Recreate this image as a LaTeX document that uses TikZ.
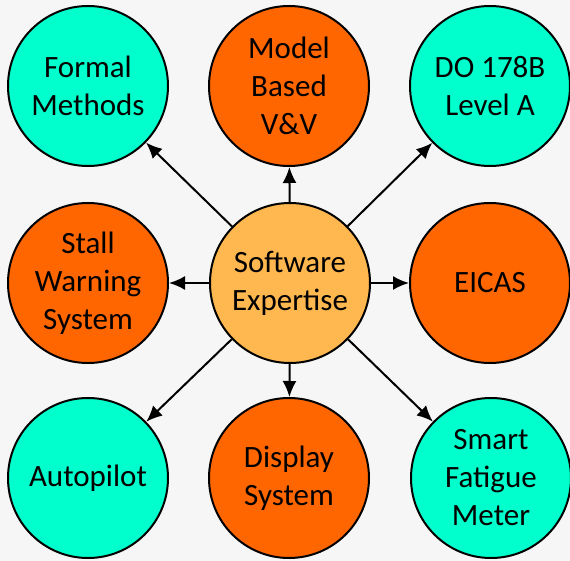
\documentclass[tikz,border=0pt]{standalone}
\usepackage{fontspec}
\setmainfont{Carlito}
\usetikzlibrary{arrows.meta}
\definecolor{aqua}{HTML}{00FFCC}
\definecolor{burnt}{HTML}{FF6600}
\definecolor{peach}{HTML}{FFB850}
\definecolor{paper}{HTML}{F6F6F6}
\tikzset{
  topic/.style={circle, draw=black, line width=2pt, minimum size=160pt, inner sep=0pt, align=center, font=\fontsize{31}{38}\selectfont},
  aquanode/.style={topic, fill=aqua},
  orangenode/.style={topic, fill=burnt},
  hub/.style={topic, fill=peach},
  fwd/.style={-{Latex[length=16pt,width=14pt]}, line width=2pt},
}

\begin{document}
\begin{tikzpicture}[x=1pt, y=-1pt]
  \fill[paper] (0,0) rectangle (570,561);
  \useasboundingbox (0,0) rectangle (570,561);

  \node[hub] (sw) at (290,283) {Software\\Expertise};

  \node[aquanode]   (fm)    at (88,86)   {Formal\\Methods};
  \node[orangenode] (mbvv)  at (289,86)  {Model\\Based\\V\&V};
  \node[aquanode]   (do)    at (490,86)  {DO 178B\\Level A};
  \node[orangenode] (stall) at (88,283)  {Stall\\Warning\\System};
  \node[orangenode] (eicas) at (490,283) {EICAS};
  \node[aquanode]   (ap)    at (88,478)  {Autopilot};
  \node[orangenode] (disp)  at (289,478) {Display\\System};
  \node[aquanode]   (sfm)   at (491,478) {Smart\\Fatigue\\Meter};

  \foreach \target in {fm, mbvv, do, stall, eicas, ap, disp, sfm}
    \draw[fwd] (sw) -- (\target);
\end{tikzpicture}
\end{document}
